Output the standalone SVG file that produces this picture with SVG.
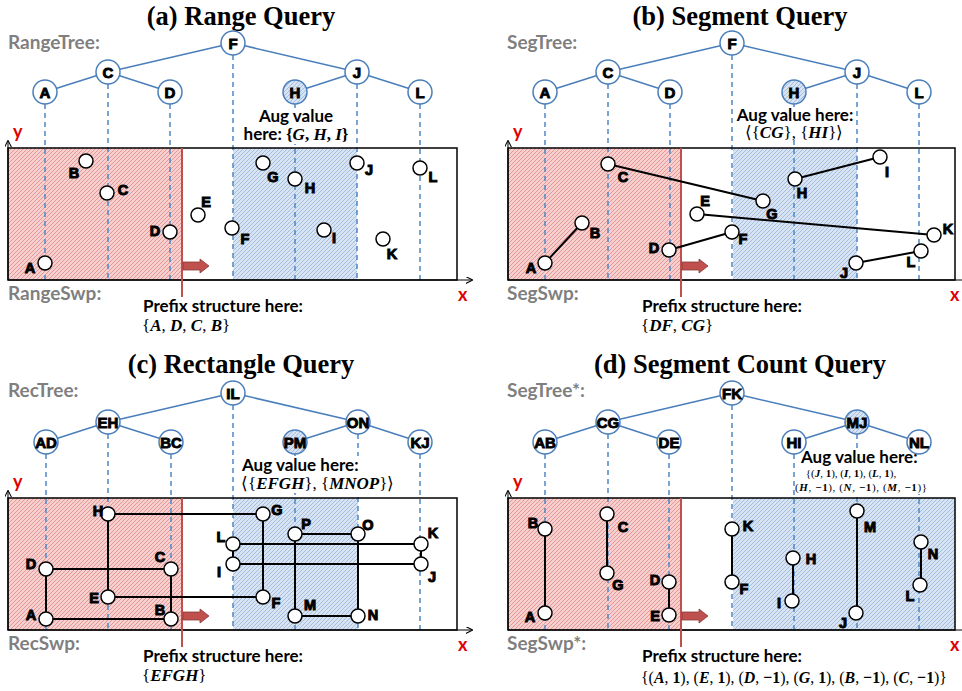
<svg xmlns="http://www.w3.org/2000/svg" width="962" height="691" viewBox="0 0 962 691">
<defs>
<pattern id="redH" width="4" height="4" patternUnits="userSpaceOnUse"><rect width="4" height="4" fill="#f5d0cf"/><path d="M-1,1 L1,-1 M0,4 L4,0 M3,5 L5,3" stroke="#e3908e" stroke-width="0.9"/></pattern>
<pattern id="blueH" width="4" height="4" patternUnits="userSpaceOnUse"><rect width="4" height="4" fill="#d9e4f2"/><path d="M-1,1 L1,-1 M0,4 L4,0 M3,5 L5,3" stroke="#9fb9de" stroke-width="0.9"/></pattern>
<marker id="arr" viewBox="0 0 10 10" refX="9" refY="5" markerWidth="7" markerHeight="7" orient="auto" markerUnits="userSpaceOnUse"><path d="M0,0 L10,5 L0,10" fill="none" stroke="#000" stroke-width="1.5"/></marker>
<path id="blk" d="M0,-4 L17,-4 L17,-7 L26,0 L17,7 L17,4 L0,4 Z"/>
</defs>
<style>
.title{font-family:"Liberation Serif","Times New Roman",serif;font-weight:bold;font-size:26.5px;text-anchor:middle}
.gray{font-family:Lato,"Open Sans",sans-serif;font-weight:bold;font-size:19px;fill:#7f7f7f}
.ax{font-family:Lato,"Open Sans",sans-serif;font-weight:bold;font-size:18px;fill:#e00000}
.nl{font-family:"Liberation Sans",Arial,sans-serif;font-weight:bold;font-size:15px;text-anchor:middle;stroke:#000;stroke-width:0.9}
.pl{font-family:"Liberation Sans",Arial,sans-serif;font-weight:bold;font-size:14.5px;text-anchor:middle;stroke:#000;stroke-width:1}
.tn{fill:#fff;stroke:#4a7ebb;stroke-width:1.5}
.tns{fill:url(#blueH);stroke:#4a7ebb;stroke-width:1.5}
.te{stroke:#4a7ebb;stroke-width:1.5;fill:none}
.dash{stroke:#4f86c6;stroke-width:1.5;stroke-dasharray:5 4;fill:none}
.pt{fill:#fff;stroke:#000;stroke-width:1.5}
.seg{stroke:#000;stroke-width:2;fill:none}
.box{fill:none;stroke:#000;stroke-width:1.5}
.axis{stroke:#000;stroke-width:1;fill:none}
.sweep{stroke:#c0504d;stroke-width:2}
.barr{fill:#c0504d;stroke:#8c3a38;stroke-width:0.8}
.ann{font-family:Lato,"Open Sans",sans-serif;font-weight:bold;font-size:17px}
.math{font-family:"Liberation Serif","Times New Roman",serif;font-size:17px}
.mi{font-weight:bold;font-style:italic}
.mb{font-weight:bold}
.small{font-size:11px}
.bg{fill:#fff}
</style>
<rect width="962" height="691" fill="#fff"/>

<!-- ================= (a) ================= -->
<g id="panel-a">
<text class="title" x="241" y="25">(a) Range Query</text>
<text class="gray" x="8" y="49">RangeTree:</text>
<rect x="8" y="148" width="174" height="132" fill="url(#redH)"/>
<rect x="233" y="148" width="124" height="132" fill="url(#blueH)"/>
<path class="dash" d="M45,104V280 M108,84V280 M170,104V280 M233,55V280 M295,104V280 M357,84V280 M420,104V280"/>
<rect class="box" x="8" y="148" width="449" height="132"/>
<path class="axis" d="M8,280H472" marker-end="url(#arr)"/>
<path class="axis" d="M8,280V141" marker-end="url(#arr)"/>
<text class="ax" x="13" y="138">y</text>
<text class="ax" x="458" y="301">x</text>
<path class="sweep" d="M182,148V297"/>
<use href="#blk" class="barr" x="183" y="266"/>
<text class="gray" x="8" y="300">RangeSwp:</text>
<text class="ann" x="143" y="312">Prefix structure here:</text>
<text class="math" x="142" y="331">{<tspan class="mi">A</tspan>, <tspan class="mi">D</tspan>, <tspan class="mi">C</tspan>, <tspan class="mi">B</tspan>}</text>
<rect class="bg" x="252" y="108" width="90" height="36"/>
<text class="ann" x="296" y="122" text-anchor="middle" font-size="16">Aug value</text>
<text class="ann" x="296" y="140" text-anchor="middle" font-size="16.5">here: <tspan class="math" font-size="17">{</tspan><tspan class="math mi" font-size="17">G</tspan><tspan class="math" font-size="17">, </tspan><tspan class="math mi" font-size="17">H</tspan><tspan class="math" font-size="17">, </tspan><tspan class="math mi" font-size="17">I</tspan><tspan class="math" font-size="17">}</tspan></text>
</g>
<g id="connectors-a">
<path class="te" d="M233,43L108,72 M233,43L357,72 M108,72L45,92 M108,72L170,92 M357,72L295,92 M357,72L420,92"/>
</g>
<g id="tree-a">
<g id="a-F"><circle class="tn" cx="233" cy="43" r="12"/><text class="nl" x="233" y="48.5">F</text></g>
<g id="a-C"><circle class="tn" cx="108" cy="72" r="12"/><text class="nl" x="108" y="77.5">C</text></g>
<g id="a-J"><circle class="tn" cx="357" cy="72" r="12"/><text class="nl" x="357" y="77.5">J</text></g>
<g id="a-A"><circle class="tn" cx="45" cy="92" r="12"/><text class="nl" x="45" y="97.5">A</text></g>
<g id="a-D"><circle class="tn" cx="170" cy="92" r="12"/><text class="nl" x="170" y="97.5">D</text></g>
<g id="a-H"><circle class="tns" cx="295" cy="92" r="12"/><text class="nl" x="295" y="97.5">H</text></g>
<g id="a-L"><circle class="tn" cx="420" cy="92" r="12"/><text class="nl" x="420" y="97.5">L</text></g>
</g>
<g id="points-a">
<g id="pa-A"><circle class="pt" cx="45" cy="263" r="7"/><text class="pl" x="30" y="273">A</text></g>
<g id="pa-B"><circle class="pt" cx="86" cy="161" r="7"/><text class="pl" x="74" y="178">B</text></g>
<g id="pa-C"><circle class="pt" cx="107" cy="193" r="7"/><text class="pl" x="123" y="195">C</text></g>
<g id="pa-D"><circle class="pt" cx="170" cy="232" r="7"/><text class="pl" x="155" y="236">D</text></g>
<g id="pa-E"><circle class="pt" cx="198" cy="215" r="7"/><text class="pl" x="206" y="207">E</text></g>
<g id="pa-F"><circle class="pt" cx="232" cy="228" r="7"/><text class="pl" x="245" y="244">F</text></g>
<g id="pa-G"><circle class="pt" cx="263" cy="163" r="7"/><text class="pl" x="273" y="182">G</text></g>
<g id="pa-H"><circle class="pt" cx="295" cy="179" r="7"/><text class="pl" x="310" y="193">H</text></g>
<g id="pa-I"><circle class="pt" cx="324" cy="230" r="7"/><text class="pl" x="334" y="243">I</text></g>
<g id="pa-J"><circle class="pt" cx="357" cy="163" r="7"/><text class="pl" x="369" y="175">J</text></g>
<g id="pa-K"><circle class="pt" cx="383" cy="239" r="7"/><text class="pl" x="392" y="259">K</text></g>
<g id="pa-L"><circle class="pt" cx="420" cy="168" r="7"/><text class="pl" x="433" y="182">L</text></g>
</g>

<!-- ================= (b) ================= -->
<g id="panel-b">
<text class="title" x="740" y="25">(b) Segment Query</text>
<text class="gray" x="507" y="49">SegTree:</text>
<rect x="508" y="148" width="173" height="132" fill="url(#redH)"/>
<rect x="733" y="148" width="124" height="132" fill="url(#blueH)"/>
<path class="dash" d="M545,104V280 M608,84V280 M670,104V280 M732,55V280 M794,104V280 M857,84V280 M919,104V280"/>
<rect class="box" x="508" y="148" width="447" height="132"/>
<path class="axis" d="M508,280H972"/>
<path class="axis" d="M508,280V141" marker-end="url(#arr)"/>
<text class="ax" x="513" y="138">y</text>
<text class="ax" x="950" y="301">x</text>
<path class="sweep" d="M681,148V297"/>
<use href="#blk" class="barr" x="682" y="266"/>
<text class="gray" x="507" y="300">SegSwp:</text>
<text class="ann" x="642" y="312">Prefix structure here:</text>
<text class="math" x="641" y="331">{<tspan class="mi">DF</tspan>, <tspan class="mi">CG</tspan>}</text>
<rect class="bg" x="735" y="107" width="121" height="33"/>
<text class="ann" x="795" y="121" text-anchor="middle">Aug value here:</text>
<text class="math" x="794" y="138" text-anchor="middle" font-size="16">⟨{<tspan class="mi">CG</tspan>}, {<tspan class="mi">HI</tspan>}⟩</text>
</g>
<g id="connectors-b">
<path class="te" d="M732,43L608,72 M732,43L857,72 M608,72L545,92 M608,72L670,92 M857,72L794,92 M857,72L919,92"/>
<path class="seg" d="M545,263L582,223 M669,250L732,232 M608,164L763,201 M697,214L934,235 M795,179L880,157 M856,263L921,251"/>
</g>
<g id="tree-b">
<g id="b-F"><circle class="tn" cx="732" cy="43" r="12"/><text class="nl" x="732" y="48.5">F</text></g>
<g id="b-C"><circle class="tn" cx="608" cy="72" r="12"/><text class="nl" x="608" y="77.5">C</text></g>
<g id="b-J"><circle class="tn" cx="857" cy="72" r="12"/><text class="nl" x="857" y="77.5">J</text></g>
<g id="b-A"><circle class="tn" cx="545" cy="92" r="12"/><text class="nl" x="545" y="97.5">A</text></g>
<g id="b-D"><circle class="tn" cx="670" cy="92" r="12"/><text class="nl" x="670" y="97.5">D</text></g>
<g id="b-H"><circle class="tns" cx="794" cy="92" r="12"/><text class="nl" x="794" y="97.5">H</text></g>
<g id="b-L"><circle class="tn" cx="919" cy="92" r="12"/><text class="nl" x="919" y="97.5">L</text></g>
</g>
<g id="points-b">
<g id="pb-A"><circle class="pt" cx="545" cy="263" r="7"/><text class="pl" x="531" y="273">A</text></g>
<g id="pb-B"><circle class="pt" cx="582" cy="223" r="7"/><text class="pl" x="595" y="238">B</text></g>
<g id="pb-C"><circle class="pt" cx="608" cy="164" r="7"/><text class="pl" x="623" y="182">C</text></g>
<g id="pb-D"><circle class="pt" cx="669" cy="250" r="7"/><text class="pl" x="654" y="253">D</text></g>
<g id="pb-E"><circle class="pt" cx="697" cy="214" r="7"/><text class="pl" x="705" y="206">E</text></g>
<g id="pb-F"><circle class="pt" cx="732" cy="232" r="7"/><text class="pl" x="743" y="244">F</text></g>
<g id="pb-G"><circle class="pt" cx="763" cy="201" r="7"/><text class="pl" x="772" y="219">G</text></g>
<g id="pb-H"><circle class="pt" cx="795" cy="179" r="7"/><text class="pl" x="802" y="198">H</text></g>
<g id="pb-I"><circle class="pt" cx="880" cy="157" r="7"/><text class="pl" x="887" y="177">I</text></g>
<g id="pb-J"><circle class="pt" cx="856" cy="263" r="7"/><text class="pl" x="844" y="278">J</text></g>
<g id="pb-K"><circle class="pt" cx="934" cy="235" r="7"/><text class="pl" x="948" y="234">K</text></g>
<g id="pb-L"><circle class="pt" cx="921" cy="251" r="7"/><text class="pl" x="911" y="267">L</text></g>
</g>

<!-- ================= (c) ================= -->
<g id="panel-c">
<text class="title" x="241" y="373">(c) Rectangle Query</text>
<text class="gray" x="8" y="397">RecTree:</text>
<rect x="8" y="498" width="174" height="132" fill="url(#redH)"/>
<rect x="233" y="498" width="125" height="132" fill="url(#blueH)"/>
<path class="dash" d="M46,454V630 M108,434V630 M171,454V630 M233,405V630 M295,454V630 M358,434V630 M420,454V630"/>
<rect class="box" x="8" y="498" width="449" height="132"/>
<path class="axis" d="M8,630H472" marker-end="url(#arr)"/>
<path class="axis" d="M8,630V491" marker-end="url(#arr)"/>
<text class="ax" x="13" y="488">y</text>
<text class="ax" x="458" y="651">x</text>
<path class="sweep" d="M182,498V647"/>
<use href="#blk" class="barr" x="183" y="616"/>
<text class="gray" x="8" y="650">RecSwp:</text>
<text class="ann" x="143" y="662">Prefix structure here:</text>
<text class="math" x="142" y="681">{<tspan class="mi">EFGH</tspan>}</text>
<rect class="bg" x="240" y="456" width="158" height="37"/>
<text class="ann" x="242" y="471">Aug value here:</text>
<text class="math" x="241" y="489">⟨{<tspan class="mi">EFGH</tspan>}, {<tspan class="mi">MNOP</tspan>}⟩</text>
</g>
<g id="connectors-c">
<path class="te" d="M233,393L108,422 M233,393L358,422 M108,422L46,442 M108,422L171,442 M358,422L295,442 M358,422L420,442"/>
<path class="seg" d="M46,569H171V619H46Z M108,514H263V597H108Z M233,544H421V564H233Z M295,534H358V616H295Z"/>
</g>
<g id="tree-c">
<g id="c-IL"><circle class="tn" cx="233" cy="393" r="12"/><text class="nl" x="233" y="398.5">IL</text></g>
<g id="c-EH"><circle class="tn" cx="108" cy="422" r="12"/><text class="nl" x="108" y="427.5">EH</text></g>
<g id="c-ON"><circle class="tn" cx="358" cy="422" r="12"/><text class="nl" x="358" y="427.5">ON</text></g>
<g id="c-AD"><circle class="tn" cx="46" cy="442" r="12"/><text class="nl" x="46" y="447.5">AD</text></g>
<g id="c-BC"><circle class="tn" cx="171" cy="442" r="12"/><text class="nl" x="171" y="447.5">BC</text></g>
<g id="c-PM"><circle class="tns" cx="295" cy="442" r="12"/><text class="nl" x="295" y="447.5">PM</text></g>
<g id="c-KJ"><circle class="tn" cx="420" cy="442" r="12"/><text class="nl" x="420" y="447.5">KJ</text></g>
</g>
<g id="points-c">
<g id="pc-A"><circle class="pt" cx="46" cy="619" r="7"/><text class="pl" x="31" y="620">A</text></g>
<g id="pc-B"><circle class="pt" cx="171" cy="619" r="7"/><text class="pl" x="160" y="615">B</text></g>
<g id="pc-C"><circle class="pt" cx="171" cy="569" r="7"/><text class="pl" x="160" y="562">C</text></g>
<g id="pc-D"><circle class="pt" cx="46" cy="569" r="7"/><text class="pl" x="31" y="569">D</text></g>
<g id="pc-E"><circle class="pt" cx="108" cy="597" r="7"/><text class="pl" x="94" y="603">E</text></g>
<g id="pc-F"><circle class="pt" cx="263" cy="597" r="7"/><text class="pl" x="276" y="608">F</text></g>
<g id="pc-G"><circle class="pt" cx="263" cy="514" r="7"/><text class="pl" x="277" y="515">G</text></g>
<g id="pc-H"><circle class="pt" cx="108" cy="514" r="7"/><text class="pl" x="98" y="516">H</text></g>
<g id="pc-I"><circle class="pt" cx="233" cy="564" r="7"/><text class="pl" x="219" y="577">I</text></g>
<g id="pc-J"><circle class="pt" cx="421" cy="564" r="7"/><text class="pl" x="432" y="582">J</text></g>
<g id="pc-K"><circle class="pt" cx="421" cy="544" r="7"/><text class="pl" x="433" y="538">K</text></g>
<g id="pc-L"><circle class="pt" cx="233" cy="544" r="7"/><text class="pl" x="221" y="542">L</text></g>
<g id="pc-M"><circle class="pt" cx="295" cy="616" r="7"/><text class="pl" x="310" y="610">M</text></g>
<g id="pc-N"><circle class="pt" cx="358" cy="616" r="7"/><text class="pl" x="373" y="620">N</text></g>
<g id="pc-O"><circle class="pt" cx="358" cy="534" r="7"/><text class="pl" x="368" y="530">O</text></g>
<g id="pc-P"><circle class="pt" cx="295" cy="534" r="7"/><text class="pl" x="306" y="529">P</text></g>
</g>

<!-- ================= (d) ================= -->
<g id="panel-d">
<text class="title" x="740" y="373">(d) Segment Count Query</text>
<text class="gray" x="507" y="397">SegTree*:</text>
<rect x="508" y="498" width="173" height="132" fill="url(#redH)"/>
<rect x="733" y="498" width="222" height="132" fill="url(#blueH)"/>
<path class="dash" d="M545,454V630 M608,434V630 M669,454V630 M732,405V630 M794,454V630 M857,434V630 M919,454V630"/>
<rect class="box" x="508" y="498" width="447" height="132"/>
<path class="axis" d="M508,630H972"/>
<path class="axis" d="M508,630V491" marker-end="url(#arr)"/>
<text class="ax" x="513" y="488">y</text>
<text class="ax" x="950" y="651">x</text>
<path class="sweep" d="M681,498V647"/>
<use href="#blk" class="barr" x="682" y="616"/>
<text class="gray" x="507" y="650">SegSwp*:</text>
<text class="ann" x="642" y="662">Prefix structure here:</text>
<text class="math" x="641" y="683" font-size="15.5" textLength="306" lengthAdjust="spacingAndGlyphs">{(<tspan class="mi">A</tspan>, <tspan class="mb">1</tspan>), (<tspan class="mi">E</tspan>, <tspan class="mb">1</tspan>), (<tspan class="mi">D</tspan>, <tspan class="mb">−1</tspan>), (<tspan class="mi">G</tspan>, <tspan class="mb">1</tspan>), (<tspan class="mi">B</tspan>, <tspan class="mb">−1</tspan>), (<tspan class="mi">C</tspan>, <tspan class="mb">−1</tspan>)}</text>
<rect class="bg" x="799" y="451" width="131" height="43"/>
<text class="ann" x="801" y="463" font-size="14">Aug value here:</text>
<text class="math small" x="851" y="477" text-anchor="middle">{(<tspan class="mi">J</tspan>, <tspan class="mb">1</tspan>), (<tspan class="mi">I</tspan>, <tspan class="mb">1</tspan>), (<tspan class="mi">L</tspan>, <tspan class="mb">1</tspan>),</text>
<text class="math small" x="795" y="491" textLength="132" lengthAdjust="spacing">(<tspan class="mi">H</tspan>, <tspan class="mb">−1</tspan>), (<tspan class="mi">N</tspan>, <tspan class="mb">−1</tspan>), (<tspan class="mi">M</tspan>, <tspan class="mb">−1</tspan>)}</text>
</g>
<g id="connectors-d">
<path class="te" d="M732,393L608,422 M732,393L857,422 M608,422L545,442 M608,422L669,442 M857,422L794,442 M857,422L919,442"/>
<path class="seg" d="M545,529V613 M607,514V573 M669,582V615 M732,529V582 M793,558V601 M857,511V613 M921,542V585"/>
</g>
<g id="tree-d">
<g id="d-FK"><circle class="tn" cx="732" cy="393" r="12"/><text class="nl" x="732" y="398.5">FK</text></g>
<g id="d-CG"><circle class="tn" cx="608" cy="422" r="12"/><text class="nl" x="608" y="427.5">CG</text></g>
<g id="d-MJ"><circle class="tns" cx="857" cy="422" r="12"/><text class="nl" x="857" y="427.5">MJ</text></g>
<g id="d-AB"><circle class="tn" cx="545" cy="442" r="12"/><text class="nl" x="545" y="447.5">AB</text></g>
<g id="d-DE"><circle class="tn" cx="669" cy="442" r="12"/><text class="nl" x="669" y="447.5">DE</text></g>
<g id="d-HI"><circle class="tn" cx="794" cy="442" r="12"/><text class="nl" x="794" y="447.5">HI</text></g>
<g id="d-NL"><circle class="tn" cx="919" cy="442" r="12"/><text class="nl" x="919" y="447.5">NL</text></g>
</g>
<g id="points-d">
<g id="pd-A"><circle class="pt" cx="545" cy="613" r="7"/><text class="pl" x="530" y="622">A</text></g>
<g id="pd-B"><circle class="pt" cx="545" cy="529" r="7"/><text class="pl" x="533" y="528">B</text></g>
<g id="pd-C"><circle class="pt" cx="607" cy="514" r="7"/><text class="pl" x="623" y="532">C</text></g>
<g id="pd-G"><circle class="pt" cx="607" cy="573" r="7"/><text class="pl" x="618" y="590">G</text></g>
<g id="pd-D"><circle class="pt" cx="669" cy="582" r="7"/><text class="pl" x="655" y="585">D</text></g>
<g id="pd-E"><circle class="pt" cx="669" cy="615" r="7"/><text class="pl" x="655" y="621">E</text></g>
<g id="pd-K"><circle class="pt" cx="732" cy="529" r="7"/><text class="pl" x="748" y="531">K</text></g>
<g id="pd-F"><circle class="pt" cx="732" cy="582" r="7"/><text class="pl" x="744" y="594">F</text></g>
<g id="pd-H"><circle class="pt" cx="793" cy="558" r="7"/><text class="pl" x="811" y="564">H</text></g>
<g id="pd-I"><circle class="pt" cx="792" cy="601" r="7"/><text class="pl" x="779" y="608">I</text></g>
<g id="pd-M"><circle class="pt" cx="857" cy="511" r="7"/><text class="pl" x="870" y="532">M</text></g>
<g id="pd-J"><circle class="pt" cx="856" cy="613" r="7"/><text class="pl" x="843" y="628">J</text></g>
<g id="pd-N"><circle class="pt" cx="921" cy="542" r="7"/><text class="pl" x="933" y="559">N</text></g>
<g id="pd-L"><circle class="pt" cx="920" cy="585" r="7"/><text class="pl" x="910" y="601">L</text></g>
</g>
</svg>
